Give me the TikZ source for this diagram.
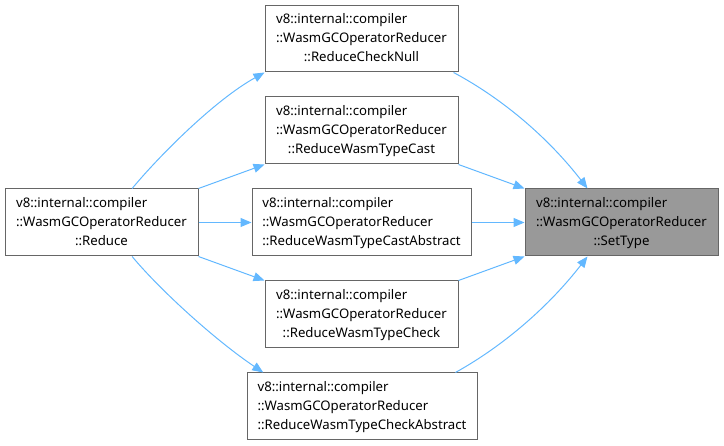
\documentclass[tikz,border=0pt]{standalone}
\usepackage{fontspec}
\setmainfont{Noto Sans}
\usetikzlibrary{arrows.meta}
\definecolor{edgec}{HTML}{63B8FF}
\definecolor{gboxc}{HTML}{999999}
\definecolor{bordc}{HTML}{666666}
\newcommand{\flabel}[3]{\begin{tabular}{@{}l@{}}#1\\#2\\\multicolumn{1}{@{}c@{}}{#3}\end{tabular}}
\tikzset{
  fn/.style={draw=bordc, line width=1pt, minimum height=67pt, inner sep=0pt,
    font=\fontsize{13.2}{19}\selectfont, fill=white},
  ed/.style={draw=edgec, line width=1pt, -{Triangle[length=11pt,width=9pt]}, fill=none},
}
\begin{document}
\begin{tikzpicture}[x=1pt,y=-1pt]
\useasboundingbox (0,0) rectangle (724,446);
\renewcommand{\arraystretch}{1}
\setlength{\tabcolsep}{0pt}
\node[fn, minimum width=193pt] (reduce) at (101.5,222.5) {\flabel{v8::internal::compiler}{::WasmGCOperatorReducer}{::Reduce}};
\node[fn, minimum width=193pt, minimum height=66pt] (checknull) at (361.5,39) {\flabel{v8::internal::compiler}{::WasmGCOperatorReducer}{::ReduceCheckNull}};
\node[fn, minimum width=193pt] (cast) at (361.5,130.5) {\flabel{v8::internal::compiler}{::WasmGCOperatorReducer}{::ReduceWasmTypeCast}};
\node[fn, minimum width=219pt] (castabs) at (361.5,222.5) {\flabel{v8::internal::compiler}{::WasmGCOperatorReducer}{::ReduceWasmTypeCastAbstract}};
\node[fn, minimum width=193pt] (check) at (361.5,314.5) {\flabel{v8::internal::compiler}{::WasmGCOperatorReducer}{::ReduceWasmTypeCheck}};
\node[fn, minimum width=230pt] (checkabs) at (362,406.5) {\flabel{v8::internal::compiler}{::WasmGCOperatorReducer}{::ReduceWasmTypeCheckAbstract}};
\node[fn, minimum width=193pt, fill=gboxc] (settype) at (621.5,222.5) {\flabel{v8::internal::compiler}{::WasmGCOperatorReducer}{::SetType}};

\draw[ed] (reduce.48) .. controls (160,155) and (215,100) .. (checknull.south west);
\draw[ed] (reduce.north east) -- (cast.south west);
\draw[ed] (reduce.east) -- (castabs.west);
\draw[ed] (reduce.south east) -- (check.north west);
\draw[ed] (reduce.-48) .. controls (160,290) and (215,340) .. (checkabs.161);

\draw[ed] (checknull.-20) .. controls (505,100) and (550,140) .. (settype.135);
\draw[ed] (cast.south east) -- (settype.north west);
\draw[ed] (castabs.east) -- (settype.west);
\draw[ed] (check.north east) -- (settype.south west);
\draw[ed] (checkabs.20) .. controls (505,345) and (550,305) .. (settype.225);
\end{tikzpicture}
\end{document}
